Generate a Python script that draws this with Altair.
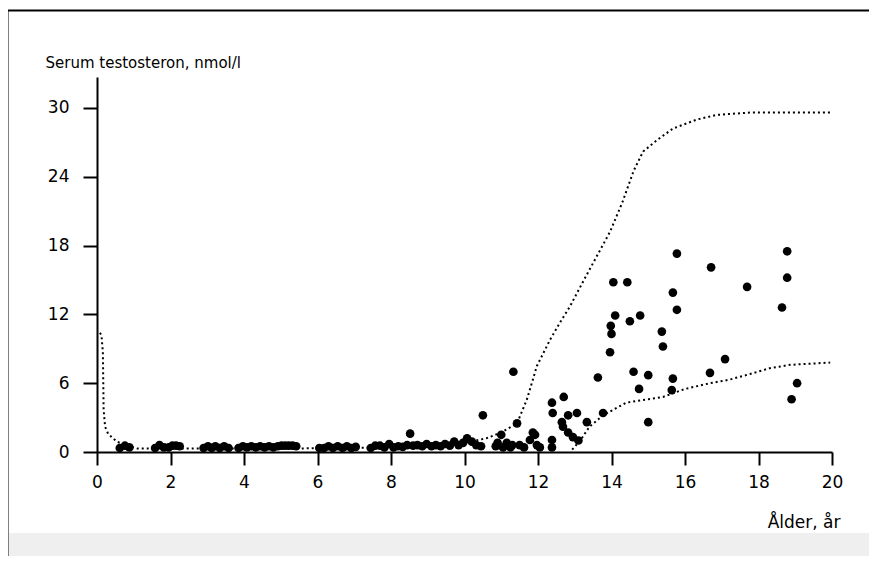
import altair as alt
import pandas as pd

# ---------------- data ----------------
scatter_age = [
    # baseline cluster, infancy to ~10.5 years
    0.62, 0.76, 0.88,
    1.58, 1.7, 1.82, 1.95, 2.05, 2.15, 2.25,
    2.9, 3.02, 3.12, 3.22, 3.34, 3.46, 3.58,
    3.85, 3.97, 4.08, 4.2, 4.32, 4.44, 4.56, 4.68, 4.8, 4.92, 5.02, 5.12, 5.22, 5.32, 5.42,
    6.05, 6.18, 6.3, 6.42, 6.55, 6.68, 6.8, 6.92, 7.04,
    7.45, 7.57, 7.7, 7.82, 7.95, 8.07, 8.2, 8.32, 8.44, 8.52, 8.6, 8.72, 8.85, 8.97, 9.1, 9.22,
    9.35, 9.47, 9.6, 9.72, 9.84, 9.96, 10.07, 10.2, 10.32, 10.45, 10.5,
    # early puberty
    10.85, 10.9, 11.0, 11.05, 11.15, 11.25, 11.3, 11.33, 11.43, 11.5, 11.62, 11.78,
    11.86, 11.92, 11.97, 12.05, 12.38, 12.38, 12.38, 12.4,
    12.65, 12.68, 12.7, 12.82, 12.82, 12.95, 13.06, 13.1, 13.33, 13.77, 13.63,
    # mid / late puberty
    13.96, 14.0, 13.98, 14.1, 14.5, 14.78, 14.05, 14.43, 15.78, 15.67, 15.78,
    15.37, 15.4, 14.6, 15.0, 14.75, 15.67, 15.64, 15.0, 16.68, 17.09, 16.71,
    17.69, 18.78, 18.78, 18.64, 19.05, 18.9,
]
scatter_t = [
    0.35, 0.55, 0.4,
    0.35, 0.6, 0.4, 0.4, 0.55, 0.55, 0.5,
    0.35, 0.5, 0.35, 0.5, 0.35, 0.5, 0.35,
    0.35, 0.5, 0.4, 0.5, 0.4, 0.5, 0.4, 0.5, 0.4, 0.5, 0.55, 0.55, 0.55, 0.55, 0.5,
    0.35, 0.35, 0.5, 0.35, 0.5, 0.35, 0.5, 0.35, 0.45,
    0.35, 0.55, 0.55, 0.4, 0.7, 0.4, 0.5, 0.45, 0.6, 1.6, 0.55, 0.6, 0.5, 0.7, 0.5, 0.6,
    0.5, 0.7, 0.55, 0.9, 0.6, 0.8, 1.2, 0.9, 0.6, 0.5, 3.2,
    0.5, 0.8, 1.5, 0.4, 0.8, 0.4, 0.6, 7.0, 2.5, 0.6, 0.4, 1.05,
    1.7, 1.5, 0.6, 0.4, 1.05, 0.4, 4.3, 3.4,
    2.6, 2.2, 4.8, 3.2, 1.7, 1.3, 3.4, 1.0, 2.6, 3.4, 6.5,
    8.7, 10.3, 11.0, 11.9, 11.4, 11.9, 14.8, 14.8, 17.3, 13.9, 12.4,
    10.5, 9.2, 7.0, 6.7, 5.5, 6.4, 5.4, 2.6, 6.9, 8.1, 16.1,
    14.4, 17.5, 15.2, 12.6, 6.0, 4.6,
]

upper_age = [0.08, 0.12, 0.16, 0.18, 0.22, 0.3, 0.4, 0.54, 0.8, 1.1, 1.6, 3.0,
             5.0, 7.0, 9.0, 10.0, 10.6, 11.0, 11.43, 11.7, 11.97, 12.33, 12.6,
             12.87, 13.3, 13.96, 14.3, 14.6, 14.86, 15.24, 15.67, 16.33, 16.87,
             17.77, 20.0]
upper_t = [10.4, 10.2, 8.7, 3.7, 2.2, 1.6, 1.3, 0.9, 0.6, 0.3, 0.3, 0.3,
           0.3, 0.35, 0.5, 0.8, 1.2, 1.7, 2.5, 4.6, 7.5, 9.8, 11.3,
           12.7, 15.3, 19.2, 21.8, 24.5, 26.2, 27.2, 28.2, 29.0, 29.4,
           29.6, 29.6]

lower_age = [12.93, 13.15, 13.4, 13.77, 14.4, 15.0, 15.4, 16.0, 16.68, 17.2,
             17.77, 18.3, 18.86, 19.95]
lower_t = [0.2, 1.0, 2.2, 3.2, 4.3, 4.6, 4.8, 5.5, 6.0, 6.3, 6.8, 7.3, 7.6, 7.8]

x_ticks = [0, 2, 4, 6, 8, 10, 12, 14, 16, 18, 20]
y_ticks = [0, 6, 12, 18, 24, 30]

x_title = "Ålder, år"
y_title = "Serum testosteron, nmol/l"

# ---------------- tables ----------------
pts = pd.DataFrame({"age": scatter_age, "t": scatter_t})
curves = pd.concat([
    pd.DataFrame({"age": upper_age, "t": upper_t, "curve": "upper", "o": range(len(upper_age))}),
    pd.DataFrame({"age": lower_age, "t": lower_t, "curve": "lower", "o": range(len(lower_age))}),
])
one = pd.DataFrame({"k": [0]})

FONT = "DejaVu Sans"

x_enc = alt.X(
    "age:Q",
    scale=alt.Scale(domain=[0, 20], nice=False, zero=False),
    axis=alt.Axis(
        values=x_ticks, format="d", title=x_title, grid=False,
        domainColor="black", domainWidth=2, tickColor="black", tickWidth=2,
        tickSize=13, labelFont=FONT, labelFontSize=17, labelColor="black",
        labelPadding=9, labelFlush=False,
        titleFont=FONT, titleFontSize=17, titleFontWeight="normal", titleColor="black",
        titleX=743, titleY=75, titleAlign="right", titleBaseline="alphabetic",
    ),
)
y_enc = alt.Y(
    "t:Q",
    scale=alt.Scale(domain=[0, 32.7], nice=False, zero=True),
    axis=alt.Axis(
        values=y_ticks, format="d", title=y_title, grid=False,
        domainColor="black", domainWidth=2, tickColor="black", tickWidth=2,
        tickSize=14, labelFont=FONT, labelFontSize=17, labelColor="black",
        labelPadding=14, labelFlush=False,
        titleFont=FONT, titleFontSize=15, titleFontWeight="normal", titleColor="black",
        titleAngle=0, titleX=-52, titleY=-15, titleAlign="left", titleBaseline="middle",
    ),
)

band = alt.Chart(one).mark_rect(fill="#efefef", stroke="transparent").encode(
    x=alt.value(-88), x2=alt.value(800), y=alt.value(456), y2=alt.value(520)
)
frame = alt.Chart(one).mark_rect(fillOpacity=0, stroke="black", strokeWidth=2).encode(
    x=alt.value(-89.5), x2=alt.value(800), y=alt.value(-66.5), y2=alt.value(520)
)

lines = alt.Chart(curves).mark_line(
    color="black", strokeWidth=2, strokeDash=[2, 3], clip=False
).encode(x=x_enc, y=y_enc, detail="curve:N", order="o:Q")

points = alt.Chart(pts).mark_point(
    shape="circle", filled=True, color="black", size=75, opacity=1
).encode(x=x_enc, y=y_enc)

chart = alt.layer(band, frame, lines, points).properties(
    width=735, height=375,
    autosize=alt.AutoSizeParams(type="none"),
    padding={"left": 89, "top": 69, "right": 37, "bottom": 104},
    background="white",
).configure_view(stroke="transparent")

chart.save("out.html", embed_options={"renderer": "svg", "actions": False})
